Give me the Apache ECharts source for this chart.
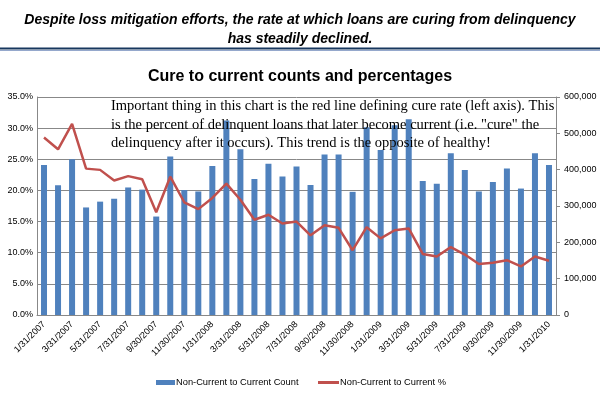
<!DOCTYPE html>
<html style="height: 100%">
<head>
    <meta charset="UTF-8">
    <script type="text/javascript" src="https://cdn.jsdelivr.net/npm/echarts@6/dist/echarts.min.js"></script>
    <style type="text/css">
        body {margin:0; padding:0; overflow:hidden; height: 100%; background: #fff}
    </style>
</head>
<body>
    <div id="container" style="width:600px;height:397px"></div>
</body>
<script>
    // month-end dates, 1/31/2007 .. 1/31/2010
    var dates = [
        '1/31/2007','2/28/2007','3/31/2007','4/30/2007','5/31/2007','6/30/2007','7/31/2007','8/31/2007','9/30/2007','10/31/2007','11/30/2007','12/31/2007',
        '1/31/2008','2/29/2008','3/31/2008','4/30/2008','5/31/2008','6/30/2008','7/31/2008','8/31/2008','9/30/2008','10/31/2008','11/30/2008','12/31/2008',
        '1/31/2009','2/28/2009','3/31/2009','4/30/2009','5/31/2009','6/30/2009','7/31/2009','8/31/2009','9/30/2009','10/31/2009','11/30/2009','12/31/2009',
        '1/31/2010'
    ];
    // Non-Current to Current Count (right axis)
    var cureCount = [
        413000, 357000, 429000, 296000, 312000, 320000, 351000, 345000, 271000, 436000, 344000, 340000,
        410000, 535000, 456000, 374000, 416000, 381000, 409000, 358000, 442000, 442000, 339000, 517000,
        454000, 522000, 539000, 369000, 361000, 445000, 399000, 340000, 366000, 403000, 348000, 445000,
        413000
    ];
    // Non-Current to Current % (left axis)
    var curePct = [
        28.5, 26.6, 30.7, 23.5, 23.3, 21.6, 22.3, 21.8, 16.5, 22.2, 18.1, 17.0,
        18.8, 21.1, 18.5, 15.3, 16.1, 14.7, 15.0, 12.8, 14.4, 14.0, 10.4, 14.1,
        12.3, 13.6, 13.9, 9.8, 9.4, 10.9, 9.7, 8.2, 8.4, 8.8, 7.8, 9.4,
        8.7
    ];

    var myChart = echarts.init(document.getElementById('container'));

    var note = 'Important thing in this chart is the red line defining cure rate (left axis). This\n' +
               'is the percent of delinquent loans that later become current (i.e. "cure" the\n' +
               'delinquency after it occurs). This trend is the opposite of healthy!';

    var option = {
        animation: false,
        textStyle: {fontFamily: 'Arial, Liberation Sans'},
        title: [{
            text: 'Despite loss mitigation efforts, the rate at which loans are curing from delinquency\nhas steadily declined.',
            left: 'center',
            top: 6,
            textStyle: {fontSize: 14, fontStyle: 'italic', fontWeight: 'bold', color: '#000', lineHeight: 19, fontFamily: 'Arial, Liberation Sans'}
        }, {
            text: 'Cure to current counts and percentages',
            left: 'center',
            top: 64,
            textStyle: {fontSize: 16, fontWeight: 'bold', color: '#000', fontFamily: 'Arial, Liberation Sans'}
        }],
        graphic: [
            {type: 'line', shape: {x1: 0, y1: 48.5, x2: 600, y2: 48.5}, style: {stroke: '#17375e', lineWidth: 2}},
            {type: 'line', shape: {x1: 0, y1: 50.5, x2: 600, y2: 50.5}, style: {stroke: '#95a8cc', lineWidth: 1}},
            {
                type: 'text', left: 111, top: 97, z: 10,
                style: {text: note, font: '14.5px "Liberation Serif", "Times New Roman", serif', fill: '#000', lineHeight: 18.5}
            }
        ],
        legend: [{
            left: 156,
            top: 378,
            padding: 0,
            itemWidth: 19,
            itemHeight: 5,
            icon: 'rect',
            textStyle: {fontSize: 9.3, color: '#000', padding: [0, 0, 0, -4]},
            data: ['Non-Current to Current Count']
        }, {
            left: 318,
            top: 378,
            padding: 0,
            itemWidth: 21,
            itemHeight: 3,
            icon: 'rect',
            textStyle: {fontSize: 9.3, color: '#000', padding: [0, 0, 0, -4]},
            data: ['Non-Current to Current %']
        }],
        grid: {left: 37, right: 44, top: 97, bottom: 82},
        xAxis: {
            type: 'category',
            data: dates,
            axisLine: {lineStyle: {color: '#888'}},
            axisTick: {show: false},
            axisLabel: {interval: 1, rotate: 45, fontSize: 9, color: '#000', margin: 8}
        },
        yAxis: [{
            type: 'value',
            min: 0, max: 35, interval: 5,
            axisLine: {show: true, lineStyle: {color: '#888'}},
            axisTick: {show: false},
            splitLine: {lineStyle: {color: '#888'}},
            axisLabel: {fontSize: 9, color: '#000', margin: 4, formatter: function (v) { return v.toFixed(1) + '%'; }}
        }, {
            type: 'value',
            min: 0, max: 600000, interval: 100000,
            position: 'right',
            axisLine: {show: true, lineStyle: {color: '#888'}},
            axisTick: {show: true, length: 4, lineStyle: {color: '#888'}},
            splitLine: {show: false},
            axisLabel: {fontSize: 9, color: '#000', margin: 8, formatter: function (v) { return v.toLocaleString('en-US'); }}
        }],
        series: [{
            name: 'Non-Current to Current Count',
            type: 'bar',
            yAxisIndex: 1,
            barWidth: 6,
            itemStyle: {color: '#4f81bd'},
            data: cureCount
        }, {
            name: 'Non-Current to Current %',
            type: 'line',
            yAxisIndex: 0,
            symbol: 'none',
            lineStyle: {color: '#c0504d', width: 2.5},
            itemStyle: {color: '#c0504d'},
            data: curePct
        }]
    };
    myChart.setOption(option);
</script>
</html>
